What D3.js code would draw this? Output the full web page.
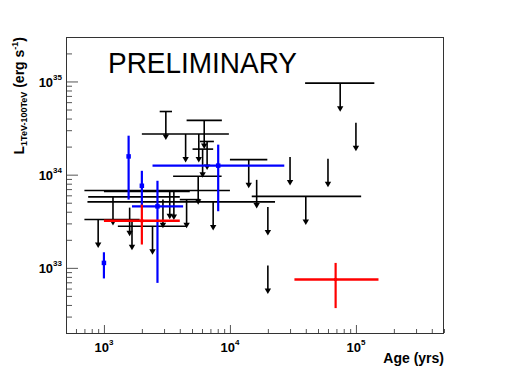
<!DOCTYPE html>
<html><head><meta charset="utf-8">
<script src="https://cdn.jsdelivr.net/npm/d3@7"></script>
<style>
body{margin:0;background:#fff;}
text{font-family:"Liberation Sans",Arial,sans-serif;}
</style></head><body>
<script>
// upper limits (black): age, age range, luminosity limit
var ulAge   = [75000,100000,60000,40000,20000,20000,16300,14100,30000,7360,3100,6250,4450,5660,6590,6070,5600,3330,1180,900,1670,1600,2430,2940,4530,3590];
var ulAgeLo = [39500,100000,60000,14900,20000,20000,16300,10000,30000,740,2770,4530,2000,5660,5770,5050,3540,700,750,700,1670,1600,1290,2940,4000,1000];
var ulAgeHi = [140000,100000,60000,110000,20000,20000,16300,19800,30000,22800,3470,8630,9810,5660,7460,7360,8590,10000,4000,1920,1670,1600,4530,2940,5770,4800];
var ulLum   = [9.6e34,3.6e34,1.48e34,5.85e33,1.06e33,4.5e33,8.8e33,1.45e34,1.55e34,5.1e33,4.76e34,3.82e34,2.73e34,2.73e34,2.27e34,1.88e34,9.6e33,6.75e33,5.77e33,3.3e33,3.13e33,4.43e33,2.8e33,5.4e33,5.4e33,6.6e33];

// measured (blue)
var blueAge   = [1570,2000,2660,1000,8070];
var blueAgeLo = [1570,2000,1670,1000,2430];
var blueAgeHi = [1570,2000,4250,1000,27000];
var blueLum   = [1.57e34,7.6e33,4.57e33,1.13e33,1.25e34];
var blueLumLo = [5.4e33,4.7e33,6.9e32,7.7e32,4.05e33];
var blueLumHi = [2.62e34,1.1e34,8.6e33,1.47e33,2.1e34];

// measured (red)
var redAge   = [2000,69000];
var redAgeLo = [1000,32500];
var redAgeHi = [4000,151000];
var redLum   = [3.2e33,7.5e32];
var redLumLo = [1.78e33,3.7e32];
var redLumHi = [4.77e33,1.13e33];

var W=510,H=371, L=66, R=444, T=37, B=333;
var svg=d3.select("body").append("svg").attr("width",W).attr("height",H);

var x=d3.scaleLog().domain([500,5e5]).range([L,R]);
var y=d3.scaleLog().domain([2e32,3e35]).range([B,T]);

function isDecade(v){var l=Math.log10(v);return Math.abs(l-Math.round(l))<1e-6;}
var xt=x.ticks(), yt=y.ticks();

// axes with inward ticks
svg.append("g").attr("transform","translate(0,"+B+")")
  .call(d3.axisBottom(x).tickValues(xt.filter(function(v){return !isDecade(v);})).tickSize(-4).tickFormat(""))
  .call(function(g){g.select(".domain").remove();g.selectAll("line").attr("stroke","#555");});
svg.append("g").attr("transform","translate(0,"+B+")")
  .call(d3.axisBottom(x).tickValues(xt.filter(isDecade)).tickSize(-8).tickFormat(""))
  .call(function(g){g.select(".domain").remove();g.selectAll("line").attr("stroke","#555");});
svg.append("g").attr("transform","translate("+L+",0)")
  .call(d3.axisLeft(y).tickValues(yt.filter(function(v){return !isDecade(v);})).tickSize(-6).tickFormat(""))
  .call(function(g){g.select(".domain").remove();g.selectAll("line").attr("stroke","#555");});
svg.append("g").attr("transform","translate("+L+",0)")
  .call(d3.axisLeft(y).tickValues(yt.filter(isDecade)).tickSize(-12).tickFormat(""))
  .call(function(g){g.select(".domain").remove();g.selectAll("line").attr("stroke","#555");});

// tick labels 10^n
xt.filter(isDecade).forEach(function(v){
  var t=svg.append("text").attr("x",x(v)).attr("y",352).attr("text-anchor","middle")
    .attr("font-size",13).attr("font-weight","bold");
  t.append("tspan").text("10");
  t.append("tspan").attr("dy",-7).attr("font-size",8).text(Math.round(Math.log10(v)));
});
yt.filter(isDecade).forEach(function(v){
  var t=svg.append("text").attr("x",62).attr("y",y(v)+5.5).attr("text-anchor","end")
    .attr("font-size",13).attr("font-weight","bold");
  t.append("tspan").text("10");
  t.append("tspan").attr("dy",-7).attr("font-size",8).text(Math.round(Math.log10(v)));
});

// frame
svg.append("rect").attr("x",L+0.5).attr("y",T+0.5).attr("width",R-L-1).attr("height",B-T)
  .attr("fill","none").attr("stroke","#333").attr("stroke-width",1);

// axis titles
svg.append("text").attr("x",R).attr("y",363).attr("text-anchor","end")
  .attr("font-size",14).attr("font-weight","bold").text("Age (yrs)");
var yt1=svg.append("text").attr("transform","translate(24,"+T+") rotate(-90)").attr("text-anchor","end")
  .attr("font-size",14).attr("font-weight","bold");
yt1.append("tspan").text("L");
yt1.append("tspan").attr("dy",3).attr("font-size",9).text("1TeV-100TeV");
yt1.append("tspan").attr("dy",-3).text(" (erg s");
yt1.append("tspan").attr("dy",-6).attr("font-size",9).text("-1");
yt1.append("tspan").attr("dy",6).text(")");

svg.append("text").attr("x",108).attr("y",73).attr("font-size",30)
  .attr("textLength",189).attr("lengthAdjust","spacingAndGlyphs").text("PRELIMINARY");

// upper limits
var ul=svg.append("g");
ulAge.forEach(function(a,i){
  var yy=y(ulLum[i]), y2=y(ulLum[i]*0.5), xx=x(a);
  if(ulAgeHi[i]>ulAgeLo[i])
    ul.append("line").attr("x1",x(ulAgeLo[i])).attr("x2",x(ulAgeHi[i])).attr("y1",yy).attr("y2",yy)
      .attr("stroke","#000").attr("stroke-width",1.6);
  ul.append("line").attr("x1",xx).attr("x2",xx).attr("y1",yy).attr("y2",y2-4)
    .attr("stroke","#000").attr("stroke-width",1.6);
  ul.append("path").attr("d","M"+(xx-3.2)+","+(y2-5)+"L"+(xx+3.2)+","+(y2-5)+"L"+xx+","+(y2+0.5)+"Z")
    .attr("fill","#000");
});

function points(age,lo,hi,lum,llo,lhi,col,mk){
  var g=svg.append("g");
  age.forEach(function(a,i){
    if(hi[i]>lo[i]) g.append("line").attr("x1",x(lo[i])).attr("x2",x(hi[i])).attr("y1",y(lum[i])).attr("y2",y(lum[i]))
      .attr("stroke",col).attr("stroke-width",2.4);
    g.append("line").attr("x1",x(a)).attr("x2",x(a)).attr("y1",y(llo[i])).attr("y2",y(lhi[i]))
      .attr("stroke",col).attr("stroke-width",2.2);
    g.append("rect").attr("x",x(a)-mk/2).attr("y",y(lum[i])-mk/2).attr("width",mk).attr("height",mk).attr("fill",col);
  });
}
points(blueAge,blueAgeLo,blueAgeHi,blueLum,blueLumLo,blueLumHi,"#0000ff",4.5);
points(redAge,redAgeLo,redAgeHi,redLum,redLumLo,redLumHi,"#ff0000",3);
</script>
</body></html>
